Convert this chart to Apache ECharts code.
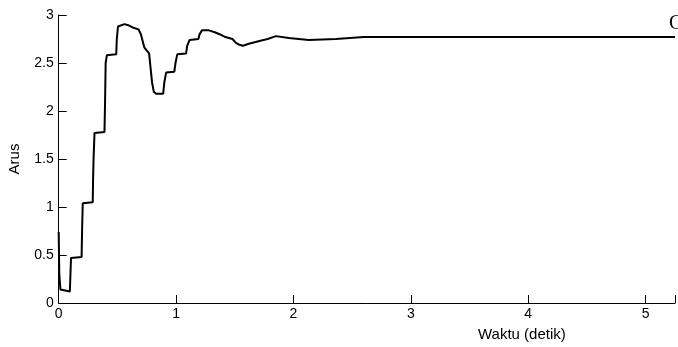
<!DOCTYPE html>
<html>
<head>
<meta charset="utf-8">
<script src="https://cdn.jsdelivr.net/npm/echarts@6/dist/echarts.min.js"></script>
<style>
  html, body { margin: 0; padding: 0; background: #fff; }
  #chart { width: 678px; height: 347px; }
</style>
</head>
<body>
<div id="chart"></div>
<script>
// waktu (detik)
var time = [0, 0.005, 0.015, 0.02, 0.095, 0.1, 0.105, 0.195, 0.2, 0.205, 0.29, 0.293, 0.297, 0.305,
  0.39, 0.395, 0.40, 0.41, 0.49, 0.495, 0.505, 0.52, 0.56, 0.6, 0.63, 0.68, 0.70, 0.73, 0.77, 0.785,
  0.795, 0.81, 0.83, 0.89, 0.9, 0.915, 0.985, 0.995, 1.01, 1.085, 1.095, 1.115, 1.19, 1.2, 1.22,
  1.28, 1.33, 1.37, 1.42, 1.48, 1.51, 1.54, 1.57, 1.62, 1.71, 1.78, 1.85, 1.96, 2.13, 2.36, 2.6, 3, 4, 5.25];
// arus
var arus = [0.74, 0.3, 0.14, 0.12, 0.12, 0.3, 0.47, 0.48, 0.8, 1.04, 1.05, 1.3, 1.5, 1.77,
  1.78, 2.1, 2.5, 2.58, 2.59, 2.75, 2.88, 2.9, 2.905, 2.89, 2.87, 2.85, 2.8, 2.66, 2.6, 2.58,
  2.3, 2.2, 2.18, 2.18, 2.3, 2.4, 2.41, 2.5, 2.59, 2.6, 2.68, 2.74, 2.75, 2.8, 2.84,
  2.84, 2.82, 2.8, 2.77, 2.75, 2.71, 2.69, 2.68, 2.7, 2.73, 2.75, 2.78, 2.76, 2.74, 2.75, 2.77, 2.77, 2.77, 2.77];
var xTicks = [0, 1, 2, 3, 4, 5];
var yTicks = [0, 0.5, 1, 1.5, 2, 2.5, 3];

var seriesData = time.map(function (t, i) { return [t, arus[i]]; });

var myChart = echarts.init(document.getElementById('chart'));
var font = 'Liberation Sans, Arial, sans-serif';
var option = {
  animation: false,
  grid: { left: 58.7, right: 0, top: 15, bottom: 44 },
  xAxis: {
    type: 'value',
    min: 0,
    max: 5.25,
    interval: 1,
    axisLine: { show: true, lineStyle: { color: '#000', width: 1 } },
    axisTick: { show: true, inside: true, length: 8, lineStyle: { color: '#000' } },
    axisLabel: {
      color: '#000', fontSize: 14, fontFamily: font, margin: 4,
      formatter: function (v) { return xTicks.indexOf(v) >= 0 ? String(v) : ''; }
    },
    splitLine: { show: false }
  },
  yAxis: {
    type: 'value',
    min: 0,
    max: 3,
    interval: 0.5,
    axisLine: { show: true, lineStyle: { color: '#000', width: 1 } },
    axisTick: { show: true, inside: true, length: 8, lineStyle: { color: '#000' } },
    axisLabel: {
      color: '#000', fontSize: 14, fontFamily: font, margin: 5,
      formatter: function (v) { return yTicks.indexOf(v) >= 0 ? String(v) : ''; }
    },
    splitLine: { show: false }
  },
  graphic: [
    {
      type: 'text', left: 478, top: 327,
      style: { text: 'Waktu (detik)', fill: '#000', font: '15px ' + font }
    },
    {
      type: 'text', x: 15, y: 159, rotation: Math.PI / 2,
      style: { text: 'Arus', fill: '#000', font: '15px ' + font, align: 'center', verticalAlign: 'middle' }
    },
    {
      type: 'text', left: 669, top: 14,
      style: { text: 'C', fill: '#000', font: '20px Liberation Serif, Times New Roman, serif' }
    }
  ],
  series: [
    {
      type: 'line',
      data: seriesData,
      showSymbol: false,
      lineStyle: { color: '#000', width: 2 },
      clip: true
    }
  ]
};
myChart.setOption(option, true);
window.addEventListener('resize', function () { myChart.resize(); });
</script>
</body>
</html>
